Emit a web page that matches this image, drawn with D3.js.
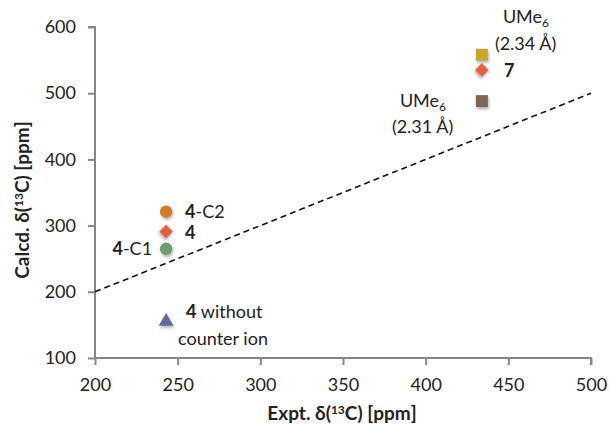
<!DOCTYPE html>
<html lang="en">
<head>
<meta charset="UTF-8">
<script src="https://cdn.jsdelivr.net/npm/d3@7/dist/d3.min.js"></script>
<style>
  * { margin: 0; padding: 0; }
  body { background: #fff; width: 610px; height: 429px; overflow: hidden; }
  text { font-family: Lato, "Open Sans", sans-serif; fill: #222; }
</style>
</head>
<body>
<svg id="chart" width="610" height="429"></svg>
<script>
// data
var names   = ['4-C2', '4', '4-C1', '4 no ion', 'UMe6 2.34', '7', 'UMe6 2.31'];
var exptVal = [243, 243, 243, 243, 434, 434, 434];
var calcVal = [321, 291, 265, 155, 558, 535, 488];
var shapes  = ['circle', 'diamond', 'circle', 'triangle', 'square', 'diamond', 'square'];
var colors  = ['#cf7d2a', '#e2603d', '#6c9d6c', '#606b94', '#c8a82a', '#e2603d', '#7e6559'];
var xTicks  = [200, 250, 300, 350, 400, 450, 500];
var yTicks  = [100, 200, 300, 400, 500, 600];
var refLine = [[200, 200], [500, 500]];

var svg = d3.select('#chart');
var x = d3.scaleLinear().domain([200, 500]).range([95, 591]);
var y = d3.scaleLinear().domain([100, 600]).range([358, 27]);

var defs = svg.append('defs');
var f = defs.append('filter').attr('id', 'shadow')
  .attr('x', '-50%').attr('y', '-50%').attr('width', '200%').attr('height', '200%');
f.append('feDropShadow').attr('dx', 1).attr('dy', 2).attr('stdDeviation', 1.5)
  .attr('flood-color', '#000').attr('flood-opacity', 0.3);

// axes
var axisColor = '#868686';
var gx = svg.append('g').attr('transform', 'translate(0,358)')
  .call(d3.axisBottom(x).tickValues(xTicks).tickSize(7).tickPadding(13));
var gy = svg.append('g').attr('transform', 'translate(95,0)')
  .call(d3.axisLeft(y).tickValues(yTicks).tickSize(7).tickPadding(12));
[gx, gy].forEach(function (g) {
  g.select('.domain').attr('stroke', axisColor).attr('stroke-width', 2);
  g.selectAll('.tick line').attr('stroke', axisColor).attr('stroke-width', 2);
  g.selectAll('.tick text').style('font-family', 'Lato, sans-serif')
    .style('font-size', '18px').attr('fill', '#222');
});
gy.select('.domain').attr('d', 'M-7,27H0V358');
gx.select('.domain').attr('d', 'M95,0H591V7');

// dashed y = x line
svg.append('line')
  .attr('x1', x(refLine[0][0])).attr('y1', y(refLine[0][1]))
  .attr('x2', x(refLine[1][0])).attr('y2', y(refLine[1][1]))
  .attr('stroke', '#111').attr('stroke-width', 1.6)
  .attr('stroke-dasharray', '6,4');

// diamonds are squares turned 45 degrees, as in the reference
var symbolType = {
  circle: d3.symbolCircle, diamond: d3.symbolSquare,
  triangle: d3.symbolTriangle, square: d3.symbolSquare
};
var symbolSize = { circle: 120, diamond: 95, triangle: 95, square: 145 };

svg.append('g').selectAll('path').data(names).join('path')
  .attr('d', function (d, i) {
    return d3.symbol().type(symbolType[shapes[i]]).size(symbolSize[shapes[i]])();
  })
  .attr('transform', function (d, i) {
    var r = shapes[i] === 'diamond' ? ' rotate(45)' : '';
    return 'translate(' + x(exptVal[i]) + ',' + y(calcVal[i]) + ')' + r;
  })
  .attr('fill', function (d, i) { return colors[i]; })
  .attr('filter', 'url(#shadow)');

// point labels
function label(px, py, anchor, parts) {
  var t = svg.append('text').attr('x', px).attr('y', py)
    .attr('text-anchor', anchor).style('font-size', '18px');
  parts.forEach(function (p) {
    var s = t.append('tspan').text(p.t);
    if (p.b) s.style('font-weight', 'bold');
    if (p.sub) s.attr('dy', 4).style('font-size', '12px');
  });
  return t;
}
label(x(243) + 19, y(321) + 6, 'start', [{ t: '4', b: true }, { t: '-C2' }]);
label(x(243) + 19, y(291) + 7, 'start', [{ t: '4', b: true }]);
label(x(243) - 14, y(265) + 6, 'end', [{ t: '4', b: true }, { t: '-C1' }]);
label(x(243) + 20, y(155) - 4, 'start', [{ t: '4', b: true }, { t: ' without' }]);
label(x(243) + 12, y(155) + 23, 'start', [{ t: 'counter ion' }]);
label(x(434) + 21, y(558) - 32, 'start', [{ t: 'UMe' }, { t: '6', sub: true }]);
label(x(434) + 13, y(558) - 5, 'start', [{ t: '(2.34 Å)' }]);
label(x(434) + 22, y(535) + 7, 'start', [{ t: '7', b: true }]);
label(x(434) - 82, y(488) + 6, 'start', [{ t: 'UMe' }, { t: '6', sub: true }]);
label(x(434) - 90, y(488) + 32, 'start', [{ t: '(2.31 Å)' }]);

// axis titles
var xt = svg.append('text').attr('x', 342).attr('y', 420).attr('text-anchor', 'middle')
  .style('font-size', '19px').style('font-weight', 'bold');
xt.append('tspan').text('Expt. δ(');
xt.append('tspan').text('13').attr('dy', -6).style('font-size', '12px');
xt.append('tspan').text('C) [ppm]').attr('dy', 6);

var yt = svg.append('text').attr('transform', 'translate(29,200) rotate(-90)')
  .attr('text-anchor', 'middle').style('font-size', '19px').style('font-weight', 'bold');
yt.append('tspan').text('Calcd. δ(');
yt.append('tspan').text('13').attr('dy', -6).style('font-size', '12px');
yt.append('tspan').text('C) [ppm]').attr('dy', 6);
</script>
</body>
</html>
